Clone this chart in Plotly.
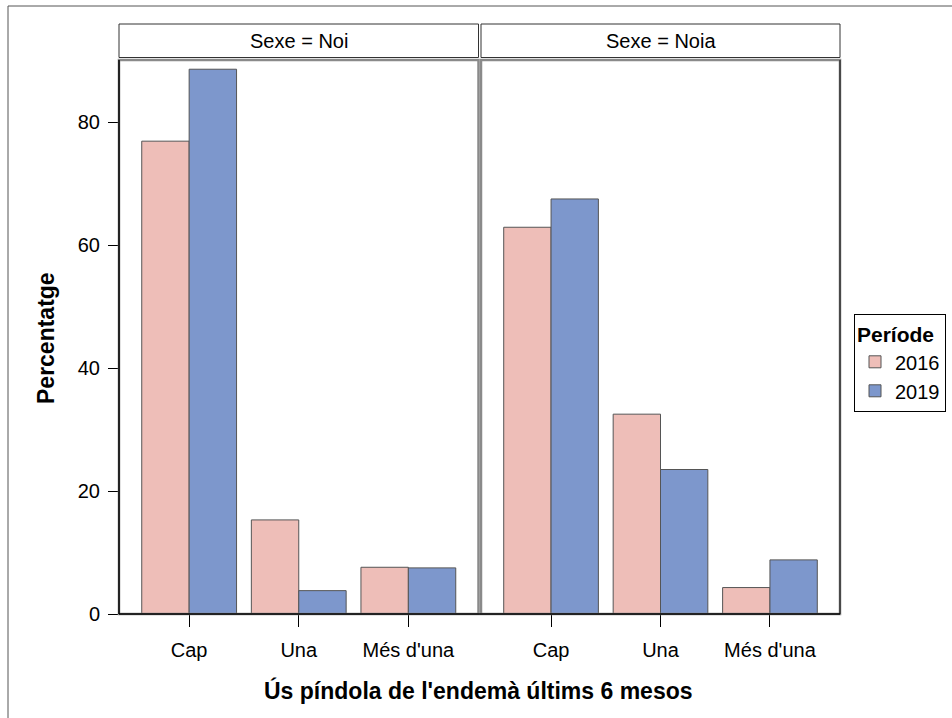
import plotly.graph_objects as go
from plotly.subplots import make_subplots

categories = ["Cap", "Una", "Més d'una"]
panels = ["Sexe = Noi", "Sexe = Noia"]
periods = ["2016", "2019"]
noi_2016 = [76.9, 15.3, 7.6]
noi_2019 = [88.6, 3.8, 7.5]
noia_2016 = [62.9, 32.5, 4.3]
noia_2019 = [67.5, 23.5, 8.8]
yticks = [0, 20, 40, 60, 80]

colors = {"2016": "#EEBEB8", "2019": "#7D97CC"}
FONT = "Arial, Liberation Sans, sans-serif"

W, H = 952, 718
L, R, T, B = 119, 112, 24, 104
pw, ph = W - L - R, H - T - B


def px(x):
    return (x - L) / pw


def py(y):
    return (H - B - y) / ph


fig = make_subplots(rows=1, cols=2, shared_yaxes=True, horizontal_spacing=0.004)

data = {
    1: {"2016": noi_2016, "2019": noi_2019},
    2: {"2016": noia_2016, "2019": noia_2019},
}
for col in (1, 2):
    for p in periods:
        fig.add_trace(
            go.Bar(
                x=categories,
                y=data[col][p],
                name=p,
                legendgroup=p,
                showlegend=(col == 1),
                marker=dict(color=colors[p], line=dict(color="#555555", width=1)),
            ),
            row=1,
            col=col,
        )

ytop = py(60)
x1_dom = [0, px(478.5)]
x2_dom = [px(481), 1]

fig.update_layout(
    width=W,
    height=H,
    margin=dict(l=L, r=R, t=T, b=B, autoexpand=False),
    paper_bgcolor="white",
    plot_bgcolor="white",
    barmode="group",
    bargap=0.135,
    bargroupgap=0,
    font=dict(family=FONT, size=20, color="black"),
    xaxis=dict(domain=x1_dom),
    xaxis2=dict(domain=x2_dom),
    legend=dict(
        title=dict(text="<b>Període</b>", font=dict(size=21)),
        x=px(854),
        y=py(314),
        xanchor="left",
        yanchor="top",
        bordercolor="black",
        borderwidth=1,
        font=dict(size=20),
        traceorder="normal",
        itemwidth=30,
        tracegroupgap=0,
    ),
)

for ax in ("xaxis", "xaxis2"):
    fig.layout[ax].update(
        range=[-0.64, 2.64],
        showline=True,
        linecolor="black",
        linewidth=1,
        ticks="outside",
        ticklen=12,
        tickcolor="black",
        tickfont=dict(size=20),
        ticklabelstandoff=6,
        showgrid=False,
        zeroline=False,
        fixedrange=True,
    )

fig.update_yaxes(
    domain=[0, ytop],
    range=[0, 90.1],
    tickvals=yticks,
    showgrid=False,
    zeroline=False,
    fixedrange=True,
)
fig.layout.yaxis.update(
    showline=True,
    linecolor="black",
    linewidth=1,
    ticks="outside",
    ticklen=10,
    tickcolor="black",
    tickfont=dict(size=20),
    ticklabelstandoff=4,
)
fig.layout.yaxis2.update(showticklabels=False, ticks="")

shapes = []
for dom in (x1_dom, x2_dom):
    # panel frames (gray)
    shapes.append(dict(type="rect", xref="paper", yref="paper", x0=dom[0], x1=dom[1],
                       y0=0, y1=ytop, line=dict(color="#8a8a8a", width=2.5), layer="above"))
    # strip
    shapes.append(dict(type="rect", xref="paper", yref="paper", x0=dom[0], x1=dom[1],
                       y0=py(57.5), y1=1, line=dict(color="#333333", width=1),
                       fillcolor="white", layer="above"))
shapes.append(dict(type="line", xref="paper", yref="paper", x0=1, x1=1, y0=0, y1=ytop,
                   line=dict(color="#333333", width=1.5), layer="above"))
shapes.append(dict(type="line", xref="paper", yref="paper", x0=0, x1=0, y0=0, y1=ytop,
                   line=dict(color="black", width=1.5), layer="above"))
shapes.append(dict(type="line", xref="paper", yref="paper", x0=0, x1=1, y0=0, y1=0,
                   line=dict(color="black", width=1.5), layer="above"))
# outer frame
shapes.append(dict(type="rect", xref="paper", yref="paper", x0=px(8), x1=px(960),
                   y0=py(730), y1=py(6), line=dict(color="#555555", width=1), layer="below"))
fig.update_layout(shapes=shapes)

annotations = []
for dom, txt in zip((x1_dom, x2_dom), panels):
    annotations.append(dict(text=txt, xref="paper", yref="paper", x=(dom[0] + dom[1]) / 2,
                            y=py(41), xanchor="center", yanchor="middle",
                            showarrow=False, font=dict(size=20)))
annotations.append(dict(text="<b>Percentatge</b>", xref="paper", yref="paper", x=px(46),
                        y=py(338), xanchor="center", yanchor="middle", textangle=-90,
                        showarrow=False, font=dict(size=23)))
annotations.append(dict(text="<b>Ús píndola de l'endemà últims 6 mesos</b>", xref="paper",
                        yref="paper", x=px(478), y=py(690), xanchor="center",
                        yanchor="middle", showarrow=False, font=dict(size=23)))
fig.update_layout(annotations=annotations)

fig.write_html(
    "out.html",
    config={"displayModeBar": False},
    post_script="document.body.style.margin='0';document.body.style.padding='0';",
)
